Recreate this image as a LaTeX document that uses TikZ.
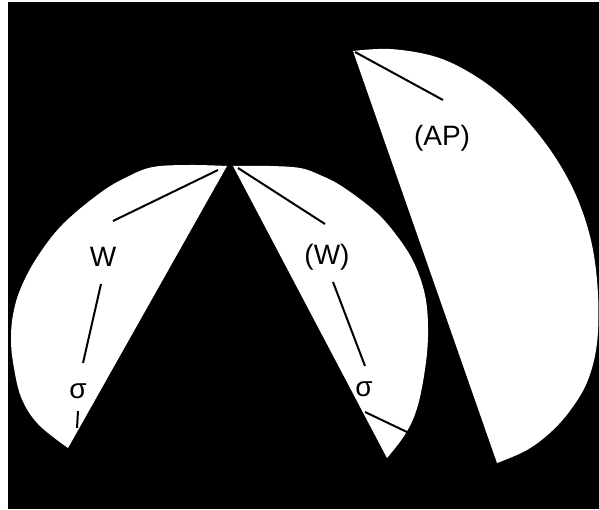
\documentclass[tikz,border=0pt]{standalone}
\usepackage{fontspec}
\setmainfont{Liberation Sans}
\begin{document}
\begin{tikzpicture}[x=0.5pt,y=-0.5pt,
  lobe/.style={fill=white},
  lead/.style={draw=black,line width=1pt},
  lbl/.style={inner sep=0pt,font=\fontsize{14}{16}\selectfont}]
\useasboundingbox (0,0) rectangle (599,509);
\fill[white] (0,0) rectangle (599,509);
\fill[black] (8,2) rectangle (599,509);
% left lobe
\fill[lobe] plot[smooth,tension=0.6] coordinates {(227,166) (190,165) (153,167) (127,177) (100,193) (62,225) (36,259) (20,290) (13,315) (11,338) (13,362) (21,397) (38,424) (68,448)} -- cycle;
% middle lobe
\fill[lobe] plot[smooth,tension=0.6] coordinates {(233,166) (270,166) (300,168) (320,175) (343,187) (377,213) (400,240) (415,265) (425,295) (428,327) (426,362) (418,405) (406,433) (387,458)} -- cycle;
% right lobe
\fill[lobe] plot[smooth,tension=0.6] coordinates {(353,51) (390,49) (433,56) (467,71) (500,94) (530,124) (557,160) (578,200) (592,245) (598,295) (597,343) (588,380) (572,408) (552,431) (527,450) (497,463)} -- cycle;
% labels
\node[lbl] (w1) at (103,257) {W};
\node[lbl] (s1) at (78,391) {σ};
\node[lbl] (w2) at (327,257) {(W)};
\node[lbl] (s2) at (364,389) {σ};
\node[lbl] (ap) at (442,138) {(AP)};
% leader lines
\coordinate (a1) at (218,170); \coordinate (b1) at (113,221);
\coordinate (c1) at (101,284); \coordinate (d1) at (83,363);
\coordinate (e1) at (78,411); \coordinate (f1) at (77,428);
\coordinate (a2) at (238,168); \coordinate (b2) at (325,224);
\coordinate (c2) at (333,282); \coordinate (d2) at (365,366);
\coordinate (e2) at (365,412); \coordinate (f2) at (407,432);
\coordinate (a3) at (355,52); \coordinate (b3) at (443,100);
\draw[lead] (a1) -- (b1);
\draw[lead] (c1) -- (d1);
\draw[lead] (e1) -- (f1);
\draw[lead] (a2) -- (b2);
\draw[lead] (c2) -- (d2);
\draw[lead] (e2) -- (f2);
\draw[lead] (a3) -- (b3);
\end{tikzpicture}
\end{document}
